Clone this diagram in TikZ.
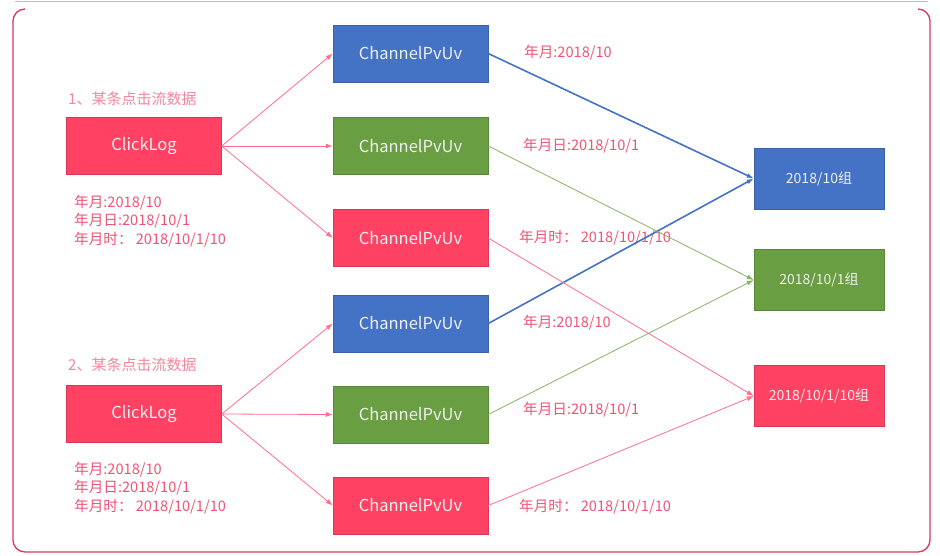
\documentclass[tikz,border=0pt]{standalone}
\usepackage{fontspec}
\setmainfont{Noto Sans CJK SC}
\usepackage{tikz}
\usetikzlibrary{arrows.meta}

\definecolor{cblue}{HTML}{4472C4}
\definecolor{cgreen}{HTML}{6A9E42}
\definecolor{cred}{HTML}{FF4263}
\definecolor{clabel}{HTML}{F05475}
\definecolor{chead}{HTML}{F2869D}
\definecolor{cframe}{HTML}{D9385C}
\definecolor{cpink}{HTML}{FF6F8A}

\tikzset{
	box/.style={minimum width=155pt, minimum height=57pt, inner sep=0pt, text=white!94!black, font=\fontsize{16.5}{18}\selectfont},
	bluebox/.style={box, fill=cblue, draw=cblue!85!black, line width=0.5pt},
	greenbox/.style={box, fill=cgreen, draw=cgreen!85!black, line width=0.5pt},
	redbox/.style={box, fill=cred, draw=cred!85!black, line width=0.5pt},
	grp/.style={minimum width=130pt, minimum height=61pt, font=\fontsize{14}{16}\selectfont},
	lbl/.style={text=clabel, inner sep=0pt, anchor=west, align=left, font=\fontsize{14.6}{18.5}\selectfont},
	head/.style={text=chead, inner sep=0pt, anchor=west, font=\fontsize{15}{17}\selectfont},
	arr/.style={-{Latex[length=7pt,width=5pt]}},
}

\begin{document}
\begin{tikzpicture}[x=1pt,y=-1pt]
	
	\useasboundingbox (0,0) rectangle (940,555);
	
	% frame
	\draw[gray!50, line width=1pt] (15,1.5) -- (928,1.5);
	\draw[cframe, line width=1.3pt, rounded corners=12pt] (25,9) -- (13,9) -- (13,552) -- (930,552) -- (930,9) -- (918,9);
	
	% sources
	\node[redbox] (log1) at (144,146) {\raisebox{-1.5pt}{ClickLog}};
	\node[redbox] (log2) at (144,414) {\raisebox{-1.5pt}{ClickLog}};
	\node[head] (h1) at (68,99) {1、某条点击流数据};
	\node[head] (h2) at (68,365) {2、某条点击流数据};
	\node[lbl] (k1) at (74,221) {年月:2018/10\\年月日:2018/10/1\\年月时： 2018/10/1/10};
	\node[lbl] (k2) at (74,488) {年月:2018/10\\年月日:2018/10/1\\年月时： 2018/10/1/10};
	
	% channel nodes
	\node[bluebox] (b1) at (410.5,53.5) {\raisebox{-1.5pt}{ChannelPvUv}};
	\node[greenbox] (g1) at (410.5,146) {\raisebox{-1.5pt}{ChannelPvUv}};
	\node[redbox] (r1) at (410.5,238) {\raisebox{-1.5pt}{ChannelPvUv}};
	\node[bluebox] (b2) at (410.5,323.5) {\raisebox{-1.5pt}{ChannelPvUv}};
	\node[greenbox] (g2) at (410.5,414.5) {\raisebox{-1.5pt}{ChannelPvUv}};
	\node[redbox] (r2) at (410.5,505.5) {\raisebox{-1.5pt}{ChannelPvUv}};
	
	\node[lbl] (lb1) at (524,53) {年月:2018/10};
	\node[lbl] (lg1) at (523,146) {年月日:2018/10/1};
	\node[lbl] (lr1) at (519,238) {年月时： 2018/10/1/10};
	\node[lbl] (lb2) at (523,323) {年月:2018/10};
	\node[lbl] (lg2) at (523,410) {年月日:2018/10/1};
	\node[lbl] (lr2) at (519,507) {年月时： 2018/10/1/10};
	
	% groups
	\node[bluebox, grp] (gb) at (819,178.5) {2018/10组};
	\node[greenbox, grp] (gg) at (819,280) {2018/10/1组};
	\node[redbox, grp] (gr) at (819,396) {2018/10/1/10组};
	
	% connectors
	\foreach \s/\a/\b/\c in {log1/b1/g1/r1, log2/b2/g2/r2}{
		\draw[arr, cpink, line width=0.8pt] (\s.east) -- (\a.west);
		\draw[arr, cpink, line width=0.8pt] (\s.east) -- (\b.west);
		\draw[arr, cpink, line width=0.8pt] (\s.east) -- (\c.west);
	}
	\draw[arr, cblue, line width=1.6pt] (b1.east) -- (gb.west);
	\draw[arr, cblue, line width=1.6pt] (b2.east) -- (gb.west);
	\draw[arr, cgreen!80, line width=0.8pt] (g1.east) -- (gg.west);
	\draw[arr, cgreen!80, line width=0.8pt] (g2.east) -- (gg.west);
	\draw[arr, cpink, line width=0.8pt] (r1.east) -- (gr.west);
	\draw[arr, cpink, line width=0.8pt] (r2.east) -- (gr.west);
	
\end{tikzpicture}
\end{document}
